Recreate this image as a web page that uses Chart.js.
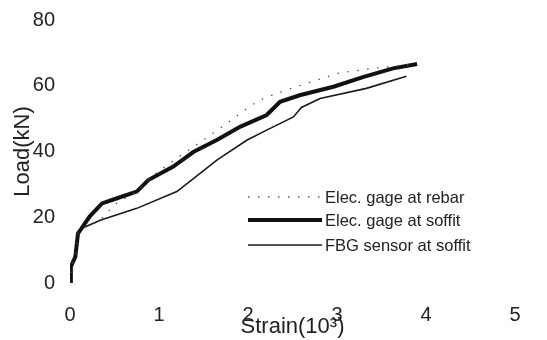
<!DOCTYPE html>
<html>
<head>
<meta charset="utf-8">
<script src="https://cdn.jsdelivr.net/npm/chart.js@4"></script>
<style>
  html, body { margin: 0; padding: 0; background: #fff; }
  canvas { display: block; }
</style>
</head>
<body>
<canvas id="chart" width="547" height="340"></canvas>
<script>
// strain (x10^-3) / load (kN) pairs
const rebarStrain  = [0, 0.01, 0.06, 0.09, 0.13, 0.32, 0.41, 0.52, 0.75, 0.94, 1.25, 1.50, 1.76, 2.02, 2.17, 2.43, 2.77, 3.03, 3.41, 3.90];
const rebarLoad    = [0, 5, 8, 15.1, 16.6, 18.6, 21.2, 24.2, 27.8, 32.8, 38.9, 43.5, 48.5, 53.8, 56.1, 58.7, 61.7, 63.9, 65.3, 66.6];

const soffitStrain = [0, 0.01, 0.06, 0.09, 0.13, 0.22, 0.36, 0.52, 0.75, 0.88, 1.16, 1.39, 1.65, 1.91, 2.21, 2.36, 2.58, 2.96, 3.30, 3.63, 3.90];
const soffitLoad   = [0, 5, 8, 15.1, 16.6, 20.2, 24.2, 25.7, 27.8, 31.3, 35.4, 39.9, 43.5, 47.5, 51.1, 55.1, 57.1, 59.7, 62.7, 65.3, 66.6];

const fbgStrain    = [0, 0.01, 0.06, 0.09, 0.13, 0.34, 0.75, 1.20, 1.39, 1.65, 1.99, 2.21, 2.51, 2.60, 2.81, 3.33, 3.78];
const fbgLoad      = [0, 5, 8, 15.1, 16.6, 19.1, 22.7, 27.8, 31.8, 37.4, 43.5, 46.5, 50.5, 53.4, 56.1, 59.2, 62.9];

const seriesNames = ['Elec. gage at rebar', 'Elec. gage at soffit', 'FBG sensor at soffit'];
const xTicks = [0, 1, 2, 3, 4, 5];
const yTicks = [0, 20, 40, 60, 80];

const toPoints = (xs, ys) => xs.map((x, i) => ({ x: x, y: ys[i] }));

// legend sits inside the plot, drawn from each dataset's own style
const innerLegend = {
  id: 'innerLegend',
  afterDraw(chart) {
    const ctx = chart.ctx;
    const x0 = 248, x1 = 322;
    const rows = [197, 220, 245];
    ctx.save();
    chart.data.datasets.forEach((ds, i) => {
      const y = rows[i];
      ctx.beginPath();
      ctx.strokeStyle = ds.borderColor;
      ctx.lineWidth = ds.borderWidth;
      ctx.setLineDash(ds.borderDash || []);
      ctx.moveTo(x0, y);
      ctx.lineTo(x1, y);
      ctx.stroke();
      ctx.setLineDash([]);
      ctx.fillStyle = '#222';
      ctx.font = '16.5px "Liberation Sans", Arial, sans-serif';
      ctx.textBaseline = 'middle';
      ctx.fillText(ds.label, x1 + 3, y + 1);
    });
    ctx.restore();
  }
};

new Chart(document.getElementById('chart'), {
  type: 'scatter',
  data: {
    datasets: [
      {
        label: seriesNames[0],
        data: toPoints(rebarStrain, rebarLoad),
        showLine: true,
        borderColor: '#555',
        borderWidth: 1.3,
        borderDash: [1.5, 8.5],
        pointRadius: 0,
        tension: 0
      },
      {
        label: seriesNames[1],
        data: toPoints(soffitStrain, soffitLoad),
        showLine: true,
        borderColor: '#111',
        borderWidth: 4,
        pointRadius: 0,
        tension: 0
      },
      {
        label: seriesNames[2],
        data: toPoints(fbgStrain, fbgLoad),
        showLine: true,
        borderColor: '#1a1a1a',
        borderWidth: 1.6,
        pointRadius: 0,
        tension: 0
      }
    ]
  },
  options: {
    responsive: false,
    animation: false,
    layout: { padding: { left: 0, right: 32, top: 20, bottom: 0 } },
    plugins: {
      legend: { display: false },
      tooltip: { enabled: false }
    },
    scales: {
      x: {
        type: 'linear',
        min: 0,
        max: 5,
        afterBuildTicks: s => { s.ticks = xTicks.map(v => ({ value: v })); },
        afterFit: s => { s.height = 57; },
        border: { display: false },
        grid: { display: false, drawTicks: false },
        ticks: {
          padding: 20,
          color: '#222',
          font: { family: '"Liberation Sans", Arial, sans-serif', size: 20 }
        },
        title: {
          display: true,
          text: 'Strain(10³)',
          color: '#222',
          padding: { top: 6, bottom: 0 },
          font: { family: '"Liberation Sans", Arial, sans-serif', size: 22 }
        }
      },
      y: {
        type: 'linear',
        min: 0,
        max: 80,
        afterBuildTicks: s => { s.ticks = yTicks.map(v => ({ value: v })); },
        afterFit: s => { s.width = 70; s.paddingTop = 0; s.paddingBottom = 0; },
        border: { display: false },
        grid: { display: false, drawTicks: false },
        ticks: {
          padding: 15,
          color: '#222',
          font: { family: '"Liberation Sans", Arial, sans-serif', size: 20 }
        },
        title: {
          display: true,
          text: 'Load(kN)',
          color: '#222',
          padding: { top: 10, bottom: 0 },
          font: { family: '"Liberation Sans", Arial, sans-serif', size: 22 }
        }
      }
    }
  },
  plugins: [innerLegend]
});
</script>
</body>
</html>
